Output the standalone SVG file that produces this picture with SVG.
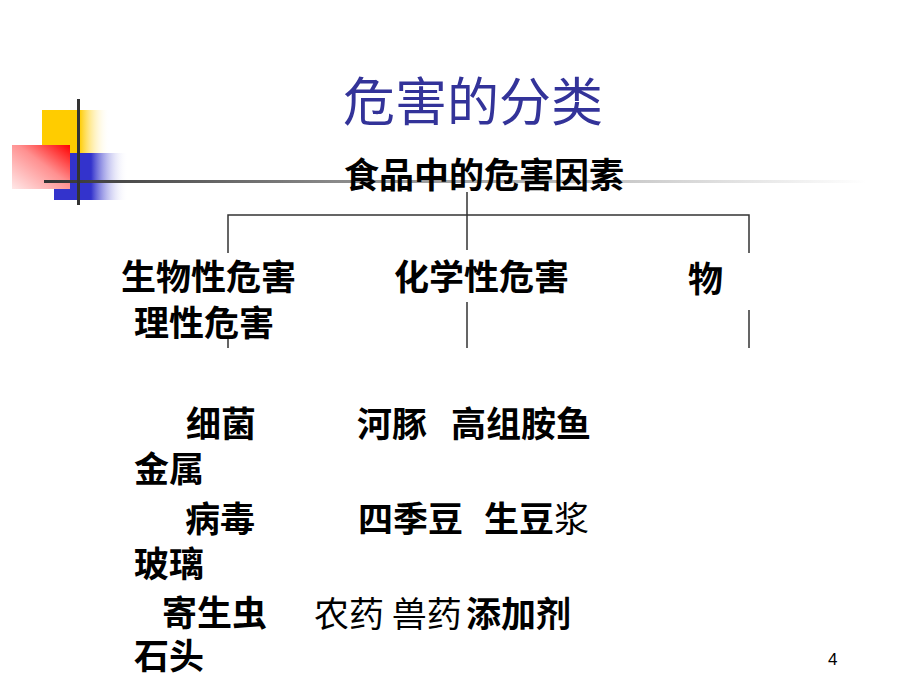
<svg xmlns="http://www.w3.org/2000/svg" width="920" height="690" viewBox="0 0 920 690">
<defs>
<linearGradient id="gYellow" x1="0" y1="0" x2="1" y2="0">
<stop offset="0" stop-color="#FFCC00"/><stop offset="0.55" stop-color="#FFCC00"/><stop offset="1" stop-color="#FFFFFF" stop-opacity="0"/>
</linearGradient>
<linearGradient id="gBlue" x1="0" y1="0" x2="1" y2="0">
<stop offset="0" stop-color="#3333CC"/><stop offset="0.5" stop-color="#3333CC"/><stop offset="1" stop-color="#FFFFFF" stop-opacity="0"/>
</linearGradient>
<linearGradient id="gRed" x1="1" y1="0" x2="0" y2="1">
<stop offset="0" stop-color="#FF0000"/><stop offset="0.45" stop-color="#FF9090"/><stop offset="1" stop-color="#FFE8E8"/>
</linearGradient>
<linearGradient id="gLine" x1="44" y1="0" x2="866" y2="0" gradientUnits="userSpaceOnUse">
<stop offset="0" stop-color="#333333"/><stop offset="0.35" stop-color="#888888"/><stop offset="0.72" stop-color="#cccccc"/><stop offset="1" stop-color="#FFFFFF"/>
</linearGradient>
<style>
.t{font-family:"Noto Sans CJK SC","Noto Sans CJK TC",sans-serif;font-size:35px;fill:#000;}
.b{font-weight:700;}
.r{font-weight:400;}
.c{stroke:#333;stroke-width:1.5;fill:none;}
</style>
</defs>
<rect width="920" height="690" fill="#FFFFFF"/>
<g id="decor">
<rect x="42" y="110" width="68" height="43" fill="url(#gYellow)"/>
<rect x="54" y="153" width="74" height="47" fill="url(#gBlue)"/>
<rect x="12" y="145" width="58" height="44" fill="url(#gRed)"/>
<rect x="44" y="180" width="822" height="3" fill="url(#gLine)"/>
<rect x="77" y="99" width="3" height="106" fill="#333333"/>
</g>
<g id="title"><text x="343" y="121" style="font-family:'Noto Sans CJK SC',sans-serif;font-size:52px;fill:#333399;">危害的分类</text></g>
<g id="connectors">
<path class="c" d="M467,192 V250 M228,253 V215 H749 V253"/>
<path class="c" d="M228,337 V348 M467,302 V348 M749,310 V348"/>
</g>
<g id="root"><text class="t b" x="344" y="188">食品中的危害因素</text></g>
<g id="bio">
<text class="t b" x="121" y="290">生物性危害</text>
<text class="t b" x="186" y="437">细菌</text>
<text class="t b" x="185" y="532">病毒</text>
<text class="t b" x="162" y="626">寄生虫</text>
</g>
<g id="chem">
<text class="t b" x="394" y="290">化学性危害</text>
<text class="t b" x="357" y="437">河豚</text>
<text class="t b" x="451" y="437">高组胺鱼</text>
<text class="t b" x="358" y="532">四季豆</text>
<text class="t" x="484" y="532"><tspan class="b">生豆</tspan><tspan class="r">浆</tspan></text>
<text class="t r" x="314" y="627">农药 兽药</text>
<text class="t b" x="466" y="627">添加剂</text>
</g>
<g id="phys">
<text class="t b" x="688" y="292">物</text>
<text class="t b" x="134" y="336">理性危害</text>
<text class="t b" x="134" y="482">金属</text>
<text class="t b" x="134" y="577">玻璃</text>
<text class="t b" x="134" y="669">石头</text>
</g>
<g id="page"><text x="828" y="665" style="font-family:'Liberation Sans',sans-serif;font-size:17px;fill:#000;">4</text></g>
</svg>
